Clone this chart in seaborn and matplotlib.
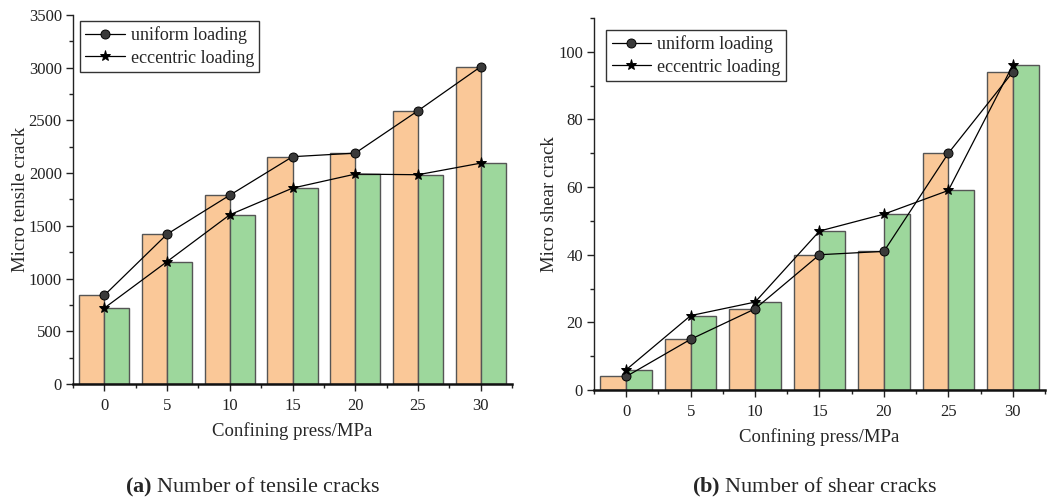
import numpy as np
import pandas as pd
import seaborn as sns
import matplotlib.pyplot as plt
from matplotlib.ticker import MultipleLocator, FixedLocator

press = [0, 5, 10, 15, 20, 25, 30]
tensile_uniform = [841, 1421, 1791, 2156, 2190, 2592, 3010]
tensile_eccentric = [720, 1161, 1605, 1858, 1991, 1985, 2095]
shear_uniform = [4, 15, 24, 40, 41, 70, 94]
shear_eccentric = [6, 22, 26, 47, 52, 59, 96]
series = ['uniform loading', 'eccentric loading']

orange = '#FAC898'
green = '#9DD79C'

sns.set_theme(style='ticks')
plt.rcParams['font.family'] = ['Liberation Serif', 'DejaVu Serif']
plt.rcParams['mathtext.fontset'] = 'custom'
plt.rcParams['mathtext.rm'] = 'Liberation Serif'
plt.rcParams['mathtext.bf'] = 'Liberation Serif:bold'


def draw(ax, uni, ecc, ylabel, ymax, major, minor, anchor):
    df = pd.DataFrame({'press': press * 2,
                       'count': uni + ecc,
                       'loading': [series[0]] * len(press) + [series[1]] * len(press)})
    sns.barplot(data=df, x='press', y='count', hue='loading', hue_order=series,
                palette=[orange, green], saturation=1, edgecolor='#555555',
                linewidth=1, legend=False, errorbar=None, ax=ax)
    sns.pointplot(x=press, y=uni, color='black', marker='o', markersize=6.5,
                  markerfacecolor='#3a3a3a', markeredgecolor='black',
                  linewidth=0.9, errorbar=None, ax=ax)
    h1 = ax.lines[-1]
    sns.pointplot(x=press, y=ecc, color='black', marker='*', markersize=8,
                  linewidth=0.9, errorbar=None, ax=ax)
    h2 = ax.lines[-1]

    ax.set_xlim(-0.5, 6.5)
    ax.set_ylim(0, ymax)
    ax.yaxis.set_major_locator(MultipleLocator(major))
    ax.yaxis.set_minor_locator(MultipleLocator(minor))
    ax.xaxis.set_minor_locator(FixedLocator(np.arange(-0.5, 7, 1)))
    ax.tick_params(axis='both', which='major', length=5, width=1, labelsize=12,
                   color='#222222', labelcolor='#222222')
    ax.tick_params(axis='both', which='minor', length=3, width=1, color='#222222')
    ax.tick_params(axis='y', pad=3)
    ax.tick_params(axis='x', pad=5)
    for s in ['top', 'right']:
        ax.spines[s].set_visible(False)
    ax.spines['left'].set_linewidth(1)
    ax.spines['bottom'].set_linewidth(1.8)
    ax.spines['left'].set_color('#222222')
    ax.spines['bottom'].set_color('#111111')
    ax.set_xlabel('Confining press/MPa', fontsize=13.5, labelpad=6)
    ax.set_ylabel(ylabel, fontsize=13.5, labelpad=0)

    leg = ax.legend(handles=[h1, h2], labels=series, loc='upper left',
                    bbox_to_anchor=anchor, fontsize=13, frameon=True,
                    fancybox=False, framealpha=1, edgecolor='#333333',
                    handlelength=2.2, handletextpad=0.3, borderpad=0.3,
                    labelspacing=0.3, borderaxespad=0)
    leg.get_frame().set_linewidth(1)


fig = plt.figure(figsize=(10.57, 5.0), dpi=100)
ax1 = fig.add_axes([0.069, 0.232, 0.4155, 0.738])
ax2 = fig.add_axes([0.562, 0.22, 0.4266, 0.744])

draw(ax1, tensile_uniform, tensile_eccentric, 'Micro tensile crack',
     3500, 500, 250, (0.016, 0.984))
draw(ax2, shear_uniform, shear_eccentric, 'Micro shear crack',
     110, 20, 10, (0.027, 0.968))

fig.text(0.239, 0.026, r'$\mathbf{(a)}$ Number of tensile cracks',
         ha='center', va='center', fontsize=16)
fig.text(0.771, 0.026, r'$\mathbf{(b)}$ Number of shear cracks',
         ha='center', va='center', fontsize=16)

fig.savefig('out.png', dpi=100)
